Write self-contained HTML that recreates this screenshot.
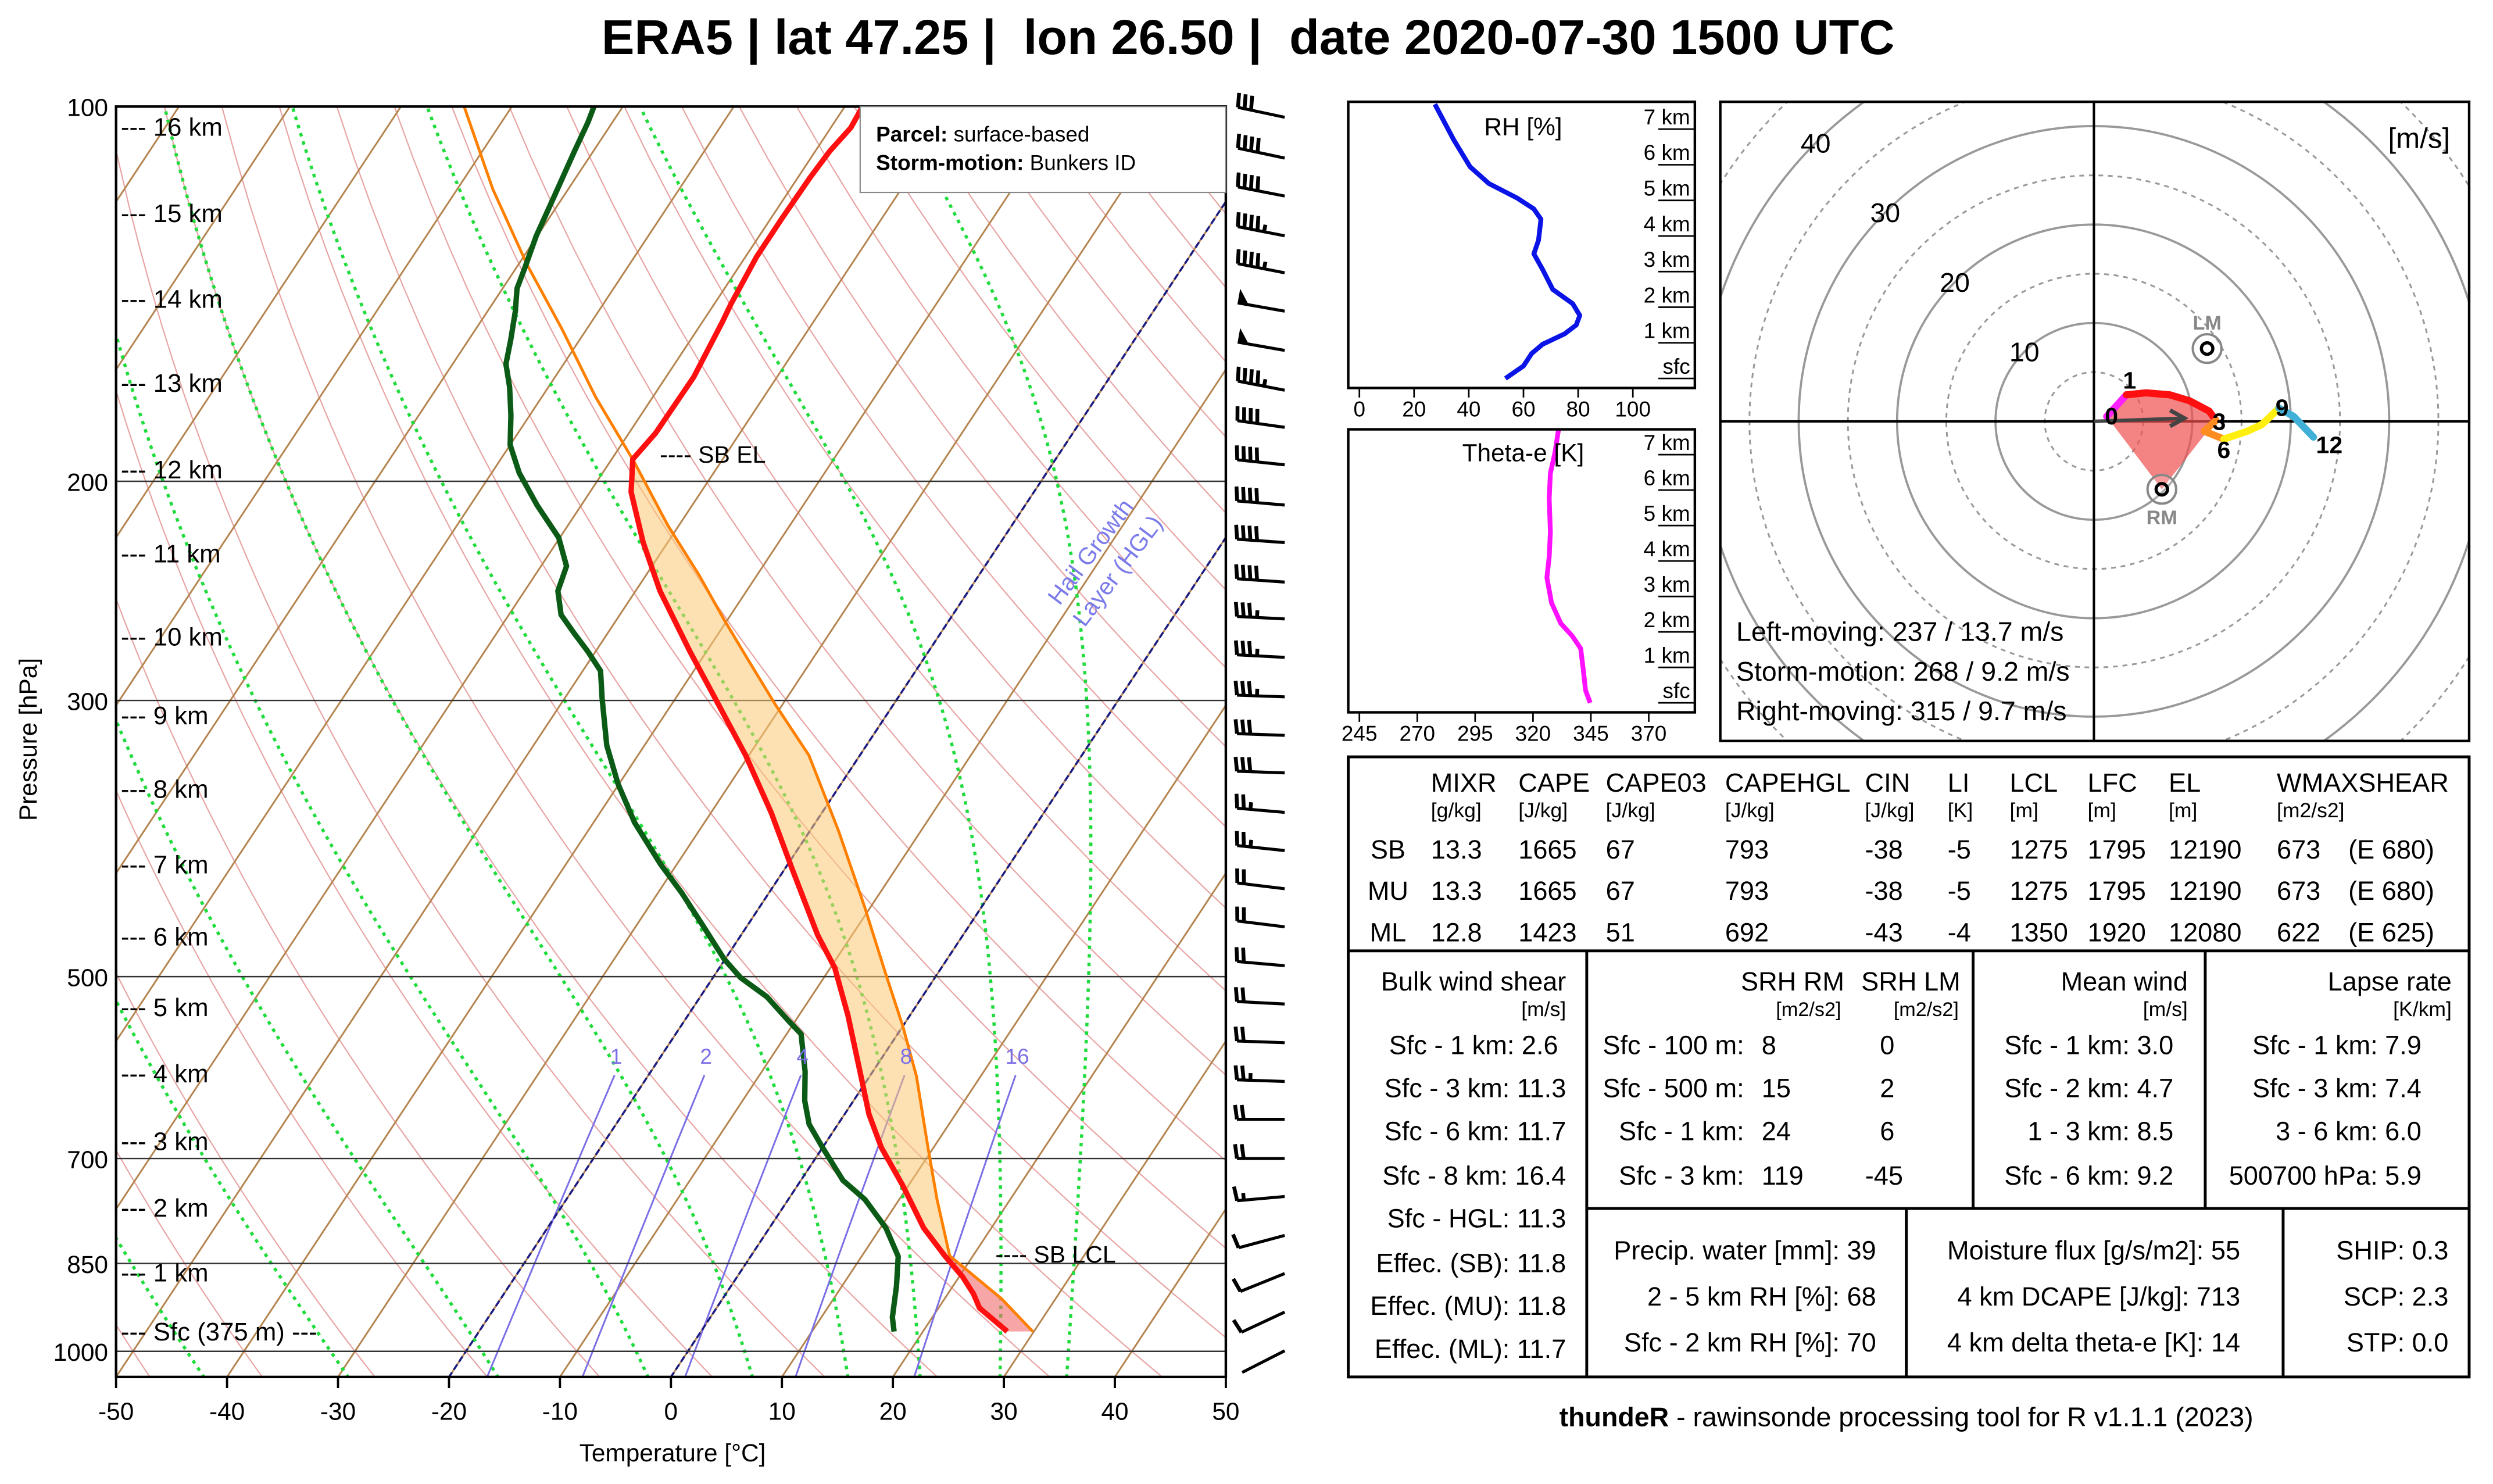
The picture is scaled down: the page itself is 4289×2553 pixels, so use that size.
<!DOCTYPE html>
<html><head><meta charset="utf-8"><title>ERA5 sounding</title>
<style>
html,body{margin:0;padding:0;background:#fff;}
svg{display:block;font-family:"Liberation Sans",Arial,sans-serif;}
</style></head>
<body>
<svg id="chart" xmlns="http://www.w3.org/2000/svg" width="4289" height="2553" viewBox="0 0 1568 933.3">
<defs>
<clipPath id="skewClip"><rect x="73" y="67" width="698" height="799"/></clipPath>
<clipPath id="rhClip"><rect x="848" y="64" width="218" height="180"/></clipPath>
<clipPath id="teClip"><rect x="848" y="270" width="218" height="178"/></clipPath>
<clipPath id="hodoClip"><rect x="1082" y="64" width="471" height="402"/></clipPath>
</defs>
<rect x="0" y="0" width="1568" height="933.3" fill="#fff"/>
<text x="785" y="34" text-anchor="middle" font-size="31" font-weight="bold" style="white-space:pre">ERA5 | lat 47.25 |  lon 26.50 |  date 2020-07-30 1500 UTC</text>

<g id="skew" clip-path="url(#skewClip)"></g>
<g id="skewTop"></g>
<rect x="73" y="67" width="698" height="799" fill="none" stroke="#000" stroke-width="1.6"/>

<g id="parcelBox">
<rect x="541" y="67" width="230" height="54" fill="#fff" stroke="#888" stroke-width="0.8"/>
<text x="551" y="89" font-size="13.5"><tspan font-weight="bold">Parcel:</tspan> surface-based</text>
<text x="551" y="107" font-size="13.5"><tspan font-weight="bold">Storm-motion:</tspan> Bunkers ID</text>
</g>

<g id="axes"></g>
<text x="423" y="919" text-anchor="middle" font-size="15.5">Temperature [°C]</text>
<text transform="translate(23,465) rotate(-90)" text-anchor="middle" font-size="15.5">Pressure [hPa]</text>

<g id="barbs"></g>

<g id="rh" clip-path="url(#rhClip)"></g>
<rect x="848" y="64" width="218" height="180" fill="none" stroke="#000" stroke-width="1.6"/>
<text x="958" y="85" text-anchor="middle" font-size="15.5">RH [%]</text>
<g id="rhAxes"></g>

<g id="te" clip-path="url(#teClip)"></g>
<rect x="848" y="270" width="218" height="178" fill="none" stroke="#000" stroke-width="1.6"/>
<text x="958" y="290" text-anchor="middle" font-size="15.5">Theta-e [K]</text>
<g id="teAxes"></g>

<g id="hodo" clip-path="url(#hodoClip)"></g>
<rect x="1082" y="64" width="471" height="402" fill="none" stroke="#000" stroke-width="1.6"/>
<text x="1541" y="93" text-anchor="end" font-size="18">[m/s]</text>
<text x="1092" y="403" font-size="17">Left-moving: 237 / 13.7 m/s</text>
<text x="1092" y="428" font-size="17">Storm-motion: 268 / 9.2 m/s</text>
<text x="1092" y="453" font-size="17">Right-moving: 315 / 9.7 m/s</text>

<g stroke="#000" stroke-width="1.8" fill="none">
<rect x="848" y="476" width="705" height="390"/>
<line x1="848" y1="598" x2="1553" y2="598"/>
<line x1="998" y1="598" x2="998" y2="866"/>
<line x1="1241" y1="598" x2="1241" y2="760"/>
<line x1="1387" y1="598" x2="1387" y2="760"/>
<line x1="998" y1="760" x2="1553" y2="760"/>
<line x1="1199" y1="760" x2="1199" y2="866"/>
<line x1="1436" y1="760" x2="1436" y2="866"/>
</g>
<g font-size="16.5">
<text x="900" y="498">MIXR</text>
<text x="955" y="498">CAPE</text>
<text x="1010" y="498">CAPE03</text>
<text x="1085" y="498">CAPEHGL</text>
<text x="1173" y="498">CIN</text>
<text x="1225" y="498">LI</text>
<text x="1264" y="498">LCL</text>
<text x="1313" y="498">LFC</text>
<text x="1364" y="498">EL</text>
<text x="1432" y="498">WMAXSHEAR</text>
<g font-size="13">
<text x="900" y="514">[g/kg]</text>
<text x="955" y="514">[J/kg]</text>
<text x="1010" y="514">[J/kg]</text>
<text x="1085" y="514">[J/kg]</text>
<text x="1173" y="514">[J/kg]</text>
<text x="1225" y="514">[K]</text>
<text x="1264" y="514">[m]</text>
<text x="1313" y="514">[m]</text>
<text x="1364" y="514">[m]</text>
<text x="1432" y="514">[m2/s2]</text>
</g>
<g>
<text x="873" y="540" text-anchor="middle">SB</text><text x="900" y="540">13.3</text><text x="955" y="540">1665</text><text x="1010" y="540">67</text><text x="1085" y="540">793</text><text x="1173" y="540">-38</text><text x="1225" y="540">-5</text><text x="1264" y="540">1275</text><text x="1313" y="540">1795</text><text x="1364" y="540">12190</text><text x="1432" y="540">673</text><text x="1477" y="540">(E 680)</text>
</g>
<g>
<text x="873" y="566" text-anchor="middle">MU</text><text x="900" y="566">13.3</text><text x="955" y="566">1665</text><text x="1010" y="566">67</text><text x="1085" y="566">793</text><text x="1173" y="566">-38</text><text x="1225" y="566">-5</text><text x="1264" y="566">1275</text><text x="1313" y="566">1795</text><text x="1364" y="566">12190</text><text x="1432" y="566">673</text><text x="1477" y="566">(E 680)</text>
</g>
<g>
<text x="873" y="592" text-anchor="middle">ML</text><text x="900" y="592">12.8</text><text x="955" y="592">1423</text><text x="1010" y="592">51</text><text x="1085" y="592">692</text><text x="1173" y="592">-43</text><text x="1225" y="592">-4</text><text x="1264" y="592">1350</text><text x="1313" y="592">1920</text><text x="1364" y="592">12080</text><text x="1432" y="592">622</text><text x="1477" y="592">(E 625)</text>
</g>
</g>
<g font-size="16.5" text-anchor="end">
<text x="985" y="623">Bulk wind shear</text>
<text x="985" y="639" font-size="13">[m/s]</text>
<text x="980" y="663">Sfc - 1 km: 2.6</text>
<text x="985" y="690">Sfc - 3 km: 11.3</text>
<text x="985" y="717">Sfc - 6 km: 11.7</text>
<text x="985" y="745">Sfc - 8 km: 16.4</text>
<text x="985" y="772">Sfc - HGL: 11.3</text>
<text x="985" y="800">Effec. (SB): 11.8</text>
<text x="985" y="827">Effec. (MU): 11.8</text>
<text x="985" y="854">Effec. (ML): 11.7</text>
</g>
<g font-size="16.5">
<text x="1160" y="623" text-anchor="end">SRH RM</text>
<text x="1233" y="623" text-anchor="end">SRH LM</text>
<text x="1158" y="639" text-anchor="end" font-size="12.5">[m2/s2]</text>
<text x="1232" y="639" text-anchor="end" font-size="12.5">[m2/s2]</text>
<text x="1097" y="663" text-anchor="end">Sfc - 100 m:</text><text x="1108" y="663">8</text><text x="1187" y="663" text-anchor="middle">0</text>
<text x="1097" y="690" text-anchor="end">Sfc - 500 m:</text><text x="1108" y="690">15</text><text x="1187" y="690" text-anchor="middle">2</text>
<text x="1097" y="717" text-anchor="end">Sfc - 1 km:</text><text x="1108" y="717">24</text><text x="1187" y="717" text-anchor="middle">6</text>
<text x="1097" y="745" text-anchor="end">Sfc - 3 km:</text><text x="1108" y="745">119</text><text x="1185" y="745" text-anchor="middle">-45</text>
</g>
<g font-size="16.5" text-anchor="end">
<text x="1376" y="623">Mean wind</text>
<text x="1376" y="639" font-size="13">[m/s]</text>
<text x="1367" y="663">Sfc - 1 km: 3.0</text>
<text x="1367" y="690">Sfc - 2 km: 4.7</text>
<text x="1367" y="717">1 - 3 km: 8.5</text>
<text x="1367" y="745">Sfc - 6 km: 9.2</text>
</g>
<g font-size="16.5" text-anchor="end">
<text x="1542" y="623">Lapse rate</text>
<text x="1542" y="639" font-size="13">[K/km]</text>
<text x="1523" y="663">Sfc - 1 km: 7.9</text>
<text x="1523" y="690">Sfc - 3 km: 7.4</text>
<text x="1523" y="717">3 - 6 km: 6.0</text>
<text x="1523" y="745">500700 hPa: 5.9</text>
</g>
<g font-size="16.5" text-anchor="end">
<text x="1180" y="792">Precip. water [mm]: 39</text>
<text x="1180" y="821">2 - 5 km RH [%]: 68</text>
<text x="1180" y="850">Sfc - 2 km RH [%]: 70</text>
</g>
<g font-size="16.5" text-anchor="end">
<text x="1409" y="792">Moisture flux [g/s/m2]: 55</text>
<text x="1409" y="821">4 km DCAPE [J/kg]: 713</text>
<text x="1409" y="850">4 km delta theta-e [K]: 14</text>
</g>
<g font-size="16.5" text-anchor="end">
<text x="1540" y="792">SHIP: 0.3</text>
<text x="1540" y="821">SCP: 2.3</text>
<text x="1540" y="850">STP: 0.0</text>
</g>
<text x="1199" y="897" text-anchor="middle" font-size="17"><tspan font-weight="bold">thundeR</tspan> - rawinsonde processing tool for R v1.1.1 (2023)</text>
</svg>

<script>
const tempP = [964,923,899,871,838.5,796,736,686,645,601,537,492,463,410,369,332,299,274,245,224,204,192,183,165,149,144,132,123,114,108.6,104,100];
const tempT = [27.6,23.7,22.3,20.3,17.5,13.9,9.5,5.3,2.2,-0.8,-5.6,-9.6,-13.1,-19.3,-24.6,-30.3,-36.4,-41.5,-47.8,-52.2,-56.3,-58.1,-57.6,-57.5,-58.2,-58.5,-59,-59,-58.9,-58.7,-58.2,-58.4];
const dewP = [964,939,886,839,796,755,729,686,657,629,596,556,542,519,501,484,455,428,406,376,350,326,299,284,274,265,256,245,234,222,209,197,187,177,168,161,154,146,140,135,127,118.5,108.6,103,100];
const dewT = [17.4,16.4,14.9,13.3,10.5,6.9,3.8,0,-2.6,-4.4,-6.1,-8.7,-10.7,-14,-17.5,-20.1,-24,-27.9,-31.5,-36.3,-40.1,-43.4,-46.6,-48.4,-50.7,-53,-55.3,-57,-57.7,-60.1,-64,-67.5,-70,-71.7,-73.5,-75.2,-76.2,-77.5,-78.7,-79.2,-80.1,-80.8,-81.7,-82.2,-82.6];
const parcelP = [964,907,838,755,686,601,548,497,439,382,332,302,279,258,238,217,193,171,151,134,116.5,100];
const parcelT = [29.9,25.1,17.9,13.4,9.5,4.2,0,-4.7,-10.6,-17.4,-24.6,-30.7,-35.6,-40.4,-45.2,-51,-57.8,-65.2,-72.2,-79.2,-86.8,-94.3];
const isobars = [200,300,500,700,850,1000];
const pLabels = [100,200,300,500,700,850,1000];
const tTicks = [-50,-40,-30,-20,-10,0,10,20,30,40,50];
const moistT0 = [-42,-29,-15.5,-2,7.4,16,22.5,29.7,35.7];
const mixRatios = [1,2,4,8,16];
const hglT = [-20,0];
const heightKm = [16,15,14,13,12,11,10,9,8,7,6,5,4,3,2,1];
const heightP = [104,122,143,167,196,229,267,309,354,407,465,530,599,679,768,866];
const windP = [102,110,118,127,136,146,157,169,181,194,209,224,241,258,277,298,320,343,369,396,425,456,490,526,565,607,651,700,751,807,866,930,999];
const windSpd = [30,40,40,45,45,50,50,45,40,40,40,40,40,35,35,35,30,30,25,25,20,20,20,20,20,25,20,20,15,10,10,10,3];
const windDir = [282,282,281,281,281,280,280,281,278,276,275,274,274,273,273,272,272,272,275,276,277,277,275,273,272,272,270,270,265,255,248,245,243];
const rhKm = [0,0.35,0.7,0.96,1.25,1.5,1.77,2.1,2.5,3.06,3.5,3.88,4.47,4.76,5.06,5.47,5.94,6.7,7.7];
const rhVal = [53.4,60,63,67,75,79.3,80.6,78,70.7,67,63.8,65.5,66.4,63.8,57.8,47.4,40.5,34.5,27.6];
const rhTicks = [0,20,40,60,80,100];
const teKm = [0,0.35,0.94,1.53,1.88,2.24,2.82,3.53,4.12,4.82,5.76,6.47,7.06,7.7];
const teVal = [344.7,342.7,341.7,340.6,337,332,328,326,327,327.5,327,327.5,329.5,331];
const teTicks = [245,270,295,320,345,370];
const kmLevels = [0,1,2,3,4,5,6,7];
const hodoH = [0,0.5,1,1.5,2,2.5,2.8,3,4.5,6,7,8,9,10.5,12];
const hodoU = [1.3,2.3,3.3,5.3,7.7,9.7,11.7,12.4,11.2,13.2,15.6,17.1,18.8,20.3,22.3];
const hodoV = [0.5,1.6,2.7,2.9,2.7,2.1,1.05,0.1,-1.0,-1.8,-1.0,-0.3,1.35,0.5,-1.6];
const hodoLabelH = [0,1,3,6,9,12];
const ringSolid = [10,20,30,40,50];
const ringDashed = [5,15,25,35,45];
const ringLabels = [10,20,30,40];
const stormLM = [11.5,7.4];
const stormRM = [6.9,-6.9];
const stormMean = [9.19,0.32];

const NS = 'http://www.w3.org/2000/svg';
function mk(tag, attrs, parent){ const e=document.createElementNS(NS,tag); for(const k in attrs) e.setAttribute(k,attrs[k]); parent.appendChild(e); return e; }
const X0=73, X1=771, Y0=67, Y1=866, PX=6.98, LNS=340, K=0.661;
function yP(p){ return Y0 + LNS*Math.log(p/100); }
function xT(t,p){ return X0 + (t+50)*PX + K*(Y1 - yP(p)); }
function pts(T,P){ return T.map((t,i)=>xT(t,P[i]).toFixed(2)+','+yP(P[i]).toFixed(2)).join(' '); }
function es(tc){ return 6.112*Math.exp(17.67*tc/(tc+243.5)); }

const skewG = document.getElementById('skew');
const skewTopG = document.getElementById('skewTop');
const axesG = document.getElementById('axes');

for(let th=-50; th<=250; th+=10){
  const T=[],P=[];
  for(let p=1050;p>=100;p-=10){ P.push(p); T.push((th+273.15)*Math.pow(p/1000,0.2857)-273.15); }
  const el = mk('polyline',{points:pts(T,P),fill:'none',stroke:'#e8a4a4','stroke-width':0.8},skewG);
  
  
}
for(let t=-170;t<=50;t+=10){
  const el = mk('line',{x1:xT(t,1050),y1:yP(1050),x2:xT(t,100),y2:yP(100),stroke:'#b58550','stroke-width':1.1},skewG);
  
  
}
moistT0.forEach(t0=>{
  let T=t0+273.15; const Ts=[],Ps=[]; const dl=-0.004;
  let lnp=Math.log(1050);
  while(Math.exp(lnp)>=100){
    const p=Math.exp(lnp); Ps.push(p); Ts.push(T-273.15);
    const e=es(T-273.15); const rs=0.622*e/(p-e);
    const g=(287.04*T+2.501e6*rs)/(1005.7+2.501e6*2.501e6*rs*0.622/(287.04*T*T));
    T += g*dl; lnp += dl;
  }
  const el = mk('polyline',{points:pts(Ts,Ps),fill:'none',stroke:'#1fdc3c','stroke-width':2,'stroke-dasharray':'2.2,3.2'},skewG);
  
  
});
mixRatios.forEach(w=>{
  const T=[],P=[];
  for(let p=1050;p>=596;p-=10){ const e=w*p/(622+w); const l=Math.log(e/6.112); P.push(p); T.push(243.5*l/(17.67-l)); }
  const el = mk('polyline',{points:pts(T,P),fill:'none',stroke:'#7b6fe6','stroke-width':1.1},skewG);
  
  
  const lb = mk('text',{x:xT(T[T.length-1],P[P.length-1])+1,y:yP(596)-5,'text-anchor':'middle','font-size':13.5,fill:'#7b6fe6'},skewTopG);
  lb.textContent=w;
  
  
});
hglT.forEach(t=>{
  const el = mk('line',{x1:xT(t,1050),y1:yP(1050),x2:xT(t,100),y2:yP(100),stroke:'#1a1a80','stroke-width':1.3,'stroke-dasharray':'4,2'},skewG);
  
  
});
isobars.forEach(p=>{
  const el = mk('line',{x1:X0,y1:yP(p),x2:X1,y2:yP(p),stroke:'#333','stroke-width':0.9},skewG);
  
  
});
{
  const a=[],b=[];
  parcelP.forEach((p,i)=>{ if(p<=838 && p>=193) a.push(xT(parcelT[i],p).toFixed(2)+','+yP(p).toFixed(2)); });
  for(let i=tempP.length-1;i>=0;i--){ const p=tempP[i]; if(p<=838.5 && p>=192) b.push(xT(tempT[i],p).toFixed(2)+','+yP(p).toFixed(2)); }
  const el = mk('polygon',{points:a.concat(b).join(' '),fill:'#fbc874','fill-opacity':0.55,stroke:'none'},skewG);
  
  
  const c=[],d=[];
  parcelP.forEach((p,i)=>{ if(p>=838) c.push(xT(parcelT[i],p).toFixed(2)+','+yP(p).toFixed(2)); });
  for(let i=0;i<tempP.length;i++){ const p=tempP[i]; if(p>=838.5) d.push(xT(tempT[i],p).toFixed(2)+','+yP(p).toFixed(2)); }
  const el2 = mk('polygon',{points:c.concat(d.reverse()).join(' '),fill:'#f06a6a','fill-opacity':0.6,stroke:'none'},skewG);
  
  
}
{
  const p1 = mk('polyline',{points:pts(parcelT,parcelP),fill:'none',stroke:'#ff7f00','stroke-width':1.8},skewG);
  
  
  const p2 = mk('polyline',{points:pts(tempT,tempP),fill:'none',stroke:'#ff1010','stroke-width':3.4,'stroke-linejoin':'round'},skewG);
  
  
  const p3 = mk('polyline',{points:pts(dewT,dewP),fill:'none',stroke:'#0b5a16','stroke-width':3.4,'stroke-linejoin':'round'},skewG);
  
  
}
heightKm.forEach((h,i)=>{
  const t = mk('text',{x:76,y:yP(heightP[i])+5,'font-size':16},skewTopG);
  t.textContent='--- '+h+' km';
  
  
});
{
  const t = mk('text',{x:76,y:843,'font-size':16},skewTopG);
  t.textContent='--- Sfc (375 m) ---';
  
  
  const e1 = mk('text',{x:415,y:291,'font-size':15},skewTopG);
  e1.textContent='---- SB EL';
  
  
  const e2 = mk('text',{x:626,y:794,'font-size':15},skewTopG);
  e2.textContent='---- SB LCL';
  
  
  const h1 = mk('text',{transform:'translate(690,350) rotate(-53)','text-anchor':'middle','font-size':15,fill:'#7b7bea'},skewTopG);
  h1.textContent='Hail Growth';
  
  
  const h2 = mk('text',{transform:'translate(707,362) rotate(-53)','text-anchor':'middle','font-size':15,fill:'#7b7bea'},skewTopG);
  h2.textContent='Layer (HGL)';
  
  
}
pLabels.forEach(p=>{
  const t = mk('text',{x:68,y:yP(p)+6,'text-anchor':'end','font-size':15.5},axesG);
  t.textContent=p;
  
  
});
tTicks.forEach(t0=>{
  const x = X0+(t0+50)*PX;
  const l = mk('line',{x1:x,y1:Y1,x2:x,y2:Y1+7,stroke:'#000','stroke-width':1.4},axesG);
  
  
  const t = mk('text',{x:x,y:893,'text-anchor':'middle','font-size':15.5},axesG);
  t.textContent=t0;
  
  
});
{
  const g = document.getElementById('barbs');
  const L=30, BL=9, ST=4.2, AX=808;
  windP.forEach((p,i)=>{
    const y=yP(p); const a=windDir[i]*Math.PI/180;
    const sx=Math.sin(a), sy=-Math.cos(a); const nx=-sy, ny=sx;
    const tx=AX+sx*L, ty=y+sy*L;
    const st = mk('line',{x1:AX,y1:y,x2:tx,y2:ty,stroke:'#000','stroke-width':1.9},g);
    
    
    let spd=windSpd[i]; let pos=0;
    const flags=Math.floor(spd/50); spd-=flags*50;
    const full=Math.floor(spd/10); spd-=full*10; const half=spd>=5;
    for(let f=0;f<flags;f++){
      const bx=tx-sx*pos, by=ty-sy*pos, ex=tx-sx*(pos+7), ey=ty-sy*(pos+7);
      const fl = mk('polygon',{points:`${bx},${by} ${bx+nx*BL},${by+ny*BL} ${ex},${ey}`,fill:'#000'},g);
      
      
      pos+=8;
    }
    for(let f=0;f<full;f++){
      const bx=tx-sx*pos, by=ty-sy*pos;
      const b = mk('line',{x1:bx,y1:by,x2:bx+nx*BL+sx*1.2,y2:by+ny*BL+sy*1.2,stroke:'#000','stroke-width':2.4},g);
      
      
      pos+=ST;
    }
    if(half){
      if(pos===0) pos=ST;
      const bx=tx-sx*pos, by=ty-sy*pos;
      const b = mk('line',{x1:bx,y1:by,x2:bx+nx*BL*0.5,y2:by+ny*BL*0.5,stroke:'#000','stroke-width':2.4},g);
      
      
    }
  });
}
{
  const g=document.getElementById('rh'), ax=document.getElementById('rhAxes');
  const xr=v=>855+v*1.72, yr=k=>238-k*22.4;
  const l = mk('polyline',{points:rhVal.map((v,i)=>xr(v)+','+yr(rhKm[i])).join(' '),fill:'none',stroke:'#0a14e6','stroke-width':3,'stroke-linejoin':'round'},g);
  
  
  rhTicks.forEach(v=>{
    const tk = mk('line',{x1:xr(v),y1:244,x2:xr(v),y2:250,stroke:'#000','stroke-width':1},ax);
    
    
    const t = mk('text',{x:xr(v),y:262,'text-anchor':'middle','font-size':13.5},ax);
    t.textContent=v;
    
    
  });
  kmLevels.forEach(k=>{
    const u = mk('line',{x1:1043,y1:yr(k),x2:1066,y2:yr(k),stroke:'#000','stroke-width':1},ax);
    
    
    const t = mk('text',{x:1063,y:yr(k)-3,'text-anchor':'end','font-size':13.5},ax);
    t.textContent=k===0?'sfc':k+' km';
    
    
  });
}
{
  const g=document.getElementById('te'), ax=document.getElementById('teAxes');
  const xr=v=>855+(v-245)*1.456, yr=k=>442-k*22.3;
  const l = mk('polyline',{points:teVal.map((v,i)=>xr(v)+','+yr(teKm[i])).join(' '),fill:'none',stroke:'#ff10ff','stroke-width':3,'stroke-linejoin':'round'},g);
  
  
  teTicks.forEach(v=>{
    const tk = mk('line',{x1:xr(v),y1:448,x2:xr(v),y2:454,stroke:'#000','stroke-width':1},ax);
    
    
    const t = mk('text',{x:xr(v),y:466,'text-anchor':'middle','font-size':13.5},ax);
    t.textContent=v;
    
    
  });
  kmLevels.forEach(k=>{
    const u = mk('line',{x1:1043,y1:yr(k),x2:1066,y2:yr(k),stroke:'#000','stroke-width':1},ax);
    
    
    const t = mk('text',{x:1063,y:yr(k)-3,'text-anchor':'end','font-size':13.5},ax);
    t.textContent=k===0?'sfc':k+' km';
    
    
  });
}
{
  const g=document.getElementById('hodo');
  const CX=1317, CY=265, S=6.19;
  const hx=u=>CX+u*S, hy=v=>CY-v*S;
  ringDashed.forEach(r=>{
    const c = mk('circle',{cx:CX,cy:CY,r:r*S,fill:'none',stroke:'#999','stroke-width':1.1,'stroke-dasharray':'3,3'},g);
    
    
  });
  ringSolid.forEach(r=>{
    const c = mk('circle',{cx:CX,cy:CY,r:r*S,fill:'none',stroke:'#999','stroke-width':1.4},g);
    
    
  });
  const a1 = mk('line',{x1:1082,y1:CY,x2:1553,y2:CY,stroke:'#000','stroke-width':1.5},g);
  
  
  const a2 = mk('line',{x1:CX,y1:64,x2:CX,y2:466,stroke:'#000','stroke-width':1.5},g);
  
  
  ringLabels.forEach(r=>{
    const t = mk('text',{x:CX-r*S*0.707,y:CY-r*S*0.707+6,'text-anchor':'middle','font-size':17},g);
    t.textContent=r;
    
    
  });
  const srh=[hx(stormRM[0])+','+hy(stormRM[1])];
  hodoH.forEach((h,i)=>{ if(h<=3) srh.push(hx(hodoU[i])+','+hy(hodoV[i])); });
  const poly = mk('polygon',{points:srh.join(' '),fill:'#f05050','fill-opacity':0.7,stroke:'none'},g);
  
  
  const segs=[[0,1,'#ff20ff'],[1,3,'#ff1010'],[3,6,'#ff8c20'],[6,9,'#ffee10'],[9,12,'#40b0d8']];
  segs.forEach(s=>{
    const pp=[]; hodoH.forEach((h,i)=>{ if(h>=s[0]&&h<=s[1]) pp.push(hx(hodoU[i])+','+hy(hodoV[i])); });
    const pl = mk('polyline',{points:pp.join(' '),fill:'none',stroke:s[2],'stroke-width':4.5,'stroke-linecap':'round','stroke-linejoin':'round'},g);
    
    
  });
  const mx=hx(stormMean[0]), my=hy(stormMean[1]);
  const ar = mk('line',{x1:CX,y1:CY,x2:mx,y2:my,stroke:'#444','stroke-width':2.2},g);
  
  
  const ah = mk('polyline',{points:`${mx-9},${my-5} ${mx},${my} ${mx-9},${my+5}`,fill:'none',stroke:'#444','stroke-width':2.6},g);
  
  
  hodoLabelH.forEach(h=>{
    const i=hodoH.indexOf(h);
    const dx = h===12?10:(h===0?3:(h===6?0:2)), dy = h===6?12:(h===12?10:(h===3?6:(h===1?-4:5)));
    const t = mk('text',{x:hx(hodoU[i])+dx,y:hy(hodoV[i])+dy,'text-anchor':'middle','font-size':15,'font-weight':'bold'},g);
    t.textContent=h;
    
    
  });
  [[stormLM,'LM',-12],[stormRM,'RM',22]].forEach(m=>{
    const x=hx(m[0][0]), y=hy(m[0][1]);
    const c1 = mk('circle',{cx:x,cy:y,r:9,fill:'#fff','fill-opacity':0.2,stroke:'#888','stroke-width':1.5},g);
    
    
    const c2 = mk('circle',{cx:x,cy:y,r:3.6,fill:'none',stroke:'#000','stroke-width':2},g);
    
    
    const t = mk('text',{x:x,y:y+m[2],'text-anchor':'middle','font-size':12.5,'font-weight':'bold',fill:'#888'},g);
    t.textContent=m[1];
    
    
  });
}
</script>
</body></html>
